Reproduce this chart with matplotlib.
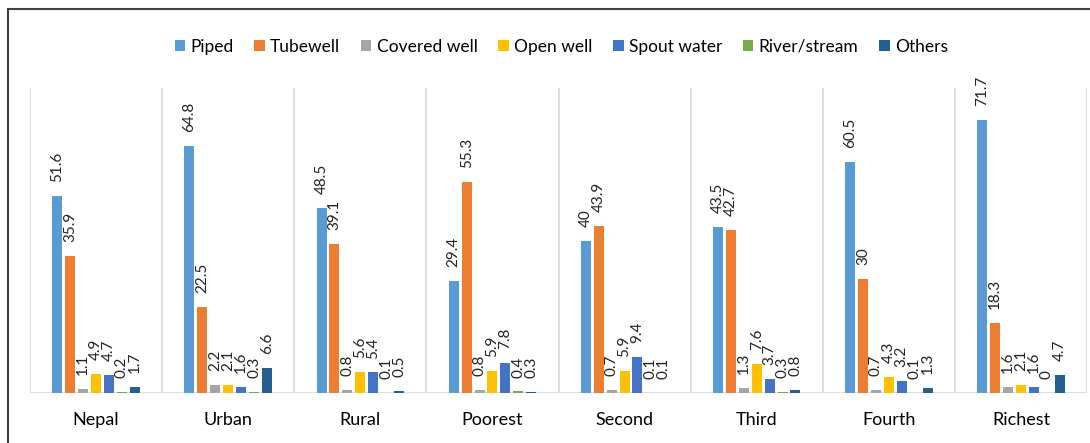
import matplotlib.pyplot as plt
import numpy as np
from matplotlib.lines import Line2D

categories = ["Nepal", "Urban", "Rural", "Poorest", "Second", "Third", "Fourth", "Richest"]
series_names = ["Piped", "Tubewell", "Covered well", "Open well", "Spout water", "River/stream", "Others"]
piped = [51.6, 64.8, 48.5, 29.4, 40, 43.5, 60.5, 71.7]
tubewell = [35.9, 22.5, 39.1, 55.3, 43.9, 42.7, 30, 18.3]
covered_well = [1.1, 2.2, 0.8, 0.8, 0.7, 1.3, 0.7, 1.6]
open_well = [4.9, 2.1, 5.6, 5.9, 5.9, 7.6, 4.3, 2.1]
spout_water = [4.7, 1.6, 5.4, 7.8, 9.4, 3.7, 3.2, 1.6]
river_stream = [0.2, 0.3, 0.1, 0.4, 0.1, 0.3, 0.1, 0]
others = [1.7, 6.6, 0.5, 0.3, 0.1, 0.8, 1.3, 4.7]
series = [piped, tubewell, covered_well, open_well, spout_water, river_stream, others]
colors = ["#5B9BD5", "#ED7D31", "#A5A5A5", "#FFC000", "#4472C4", "#70AD47", "#255E91"]

plt.rcParams["font.family"] = ["Lato", "DejaVu Sans"]

W, H = 1090, 443
fig = plt.figure(figsize=(W / 100, H / 100), dpi=100)
ax = fig.add_axes([30 / W, (H - 393) / H, 1057 / W, 305 / H])

x = np.arange(len(categories))
step = 0.0977
width = 0.0757
for i, (name, vals, col) in enumerate(zip(series_names, series, colors)):
    pos = x + (i - 3) * step
    ax.bar(pos, vals, width=width, color=col, label=name, zorder=3)
    for xp, v in zip(pos, vals):
        ax.annotate(f"{v:g}", (xp, v), xytext=(0, 10), textcoords="offset points",
                    rotation=90, ha="center", va="bottom", fontsize=11, color="#222222")

for b in np.arange(-0.5, len(categories), 1.0):
    ax.axvline(b, color="#d9d9d9", lw=1.2, zorder=1)
ax.axhline(0, color="#d9d9d9", lw=2, zorder=2)

ax.set_xlim(-0.5, len(categories) - 0.5)
ax.set_ylim(0, 80)
ax.set_yticks([])
ax.set_xticks(x)
ax.set_xticklabels(categories, fontsize=13)
ax.tick_params(axis="x", length=0, pad=14)
for s in ax.spines.values():
    s.set_visible(False)

fig.legend(loc="center", bbox_to_anchor=(0.515, 1 - 47 / H), ncol=7, frameon=False,
           fontsize=12.5, handlelength=0.6, handleheight=0.6, handletextpad=0.3,
           columnspacing=1.2)

# outer chart border (left and top visible)
fig.add_artist(Line2D([8 / W, 8 / W], [0, 1 - 9 / H], color="#404040", lw=1.5))
fig.add_artist(Line2D([8 / W, 1], [1 - 9 / H, 1 - 9 / H], color="#404040", lw=1.5))

fig.savefig("out.png", dpi=100)
